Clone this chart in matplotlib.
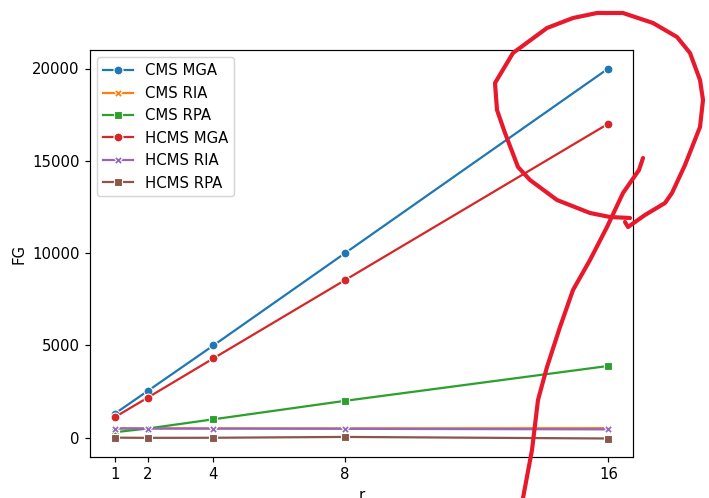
import numpy as np
import matplotlib
matplotlib.use('Agg')
import matplotlib.pyplot as plt
from matplotlib.lines import Line2D
from matplotlib.ticker import MultipleLocator

# values
r_values = [1, 2, 4, 8, 16]
cms_mga = [1300, 2530, 5000, 10000, 20000]
cms_ria = [512, 512, 510, 510, 520]
cms_rpa = [300, 500, 1000, 2000, 3890]
hcms_mga = [1110, 2170, 4300, 8540, 17010]
hcms_ria = [500, 498, 495, 485, 455]
hcms_rpa = [5, -5, 0, 45, -40]

series = [
    ('CMS MGA', cms_mga, 'o'),
    ('CMS RIA', cms_ria, 'X'),
    ('CMS RPA', cms_rpa, 's'),
    ('HCMS MGA', hcms_mga, 'o'),
    ('HCMS RIA', hcms_ria, 'X'),
    ('HCMS RPA', hcms_rpa, 's'),
]
colors = ['#1f77b4', '#ff7f0e', '#2ca02c', '#d62728', '#9467bd', '#8c564b']

W, H = 709, 498
DPI = 107
fig = plt.figure(figsize=(W / DPI, H / DPI), dpi=DPI)
ax = fig.add_axes([90 / W, 1 - 457 / H, 543 / W, 407 / H])

for (label, vals, marker), c in zip(series, colors):
    ax.plot(r_values, vals, color=c, marker=marker, markersize=6,
            markeredgecolor='white', markeredgewidth=0.75, linewidth=1.5, label=label)

ax.set_xticks(r_values)
ax.yaxis.set_major_locator(MultipleLocator(5000))
ax.set_xlabel('r')
ax.set_ylabel('FG')
ax.legend(loc='upper left')

# hand-drawn red annotation (pixel coords of the screenshot)
circle = [(630, 218), (610, 217), (590, 213), (557, 200), (530, 180), (518, 167),
          (505, 133), (497, 110), (495, 83), (513, 53), (547, 28), (573, 18),
          (597, 13), (623, 13), (653, 23), (677, 37), (690, 53), (700, 80),
          (703, 100), (700, 127), (685, 165), (672, 193), (665, 203), (645, 215),
          (628, 227), (625, 222)]
stroke = [(643, 158), (639, 170), (623, 193), (607, 227), (590, 260), (573, 290),
          (560, 327), (547, 367), (538, 400), (532, 450), (523, 498)]
for pts in (circle, stroke):
    xs = [p[0] / W for p in pts]
    ys = [1 - p[1] / H for p in pts]
    fig.add_artist(Line2D(xs, ys, transform=fig.transFigure, color='#e8192c',
                          linewidth=2.8, solid_joinstyle='round', solid_capstyle='round'))

fig.savefig('out.png', dpi=DPI)
